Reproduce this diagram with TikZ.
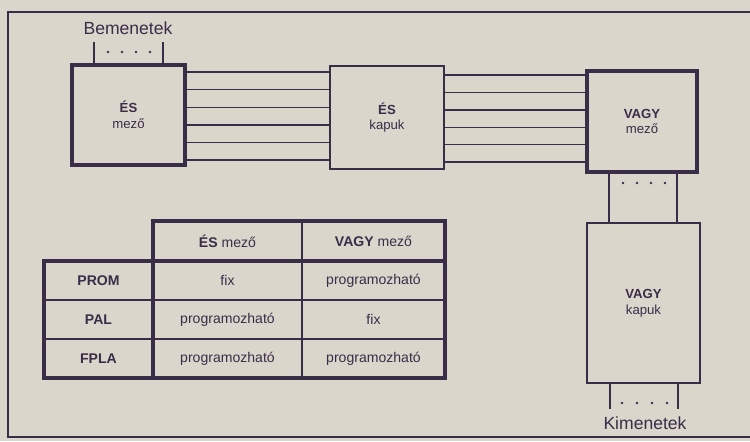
\documentclass[tikz,border=0pt]{standalone}
\usepackage{fontspec}
\setmainfont{Liberation Sans}
\usetikzlibrary{positioning}
\definecolor{paper}{HTML}{DBD6CC}
\definecolor{ink}{HTML}{3A2D48}
\tikzset{
    block/.style={draw=ink, text=ink, line width=0.8pt, inner sep=0pt, align=center, font=\fontsize{7.5}{9}\selectfont},
    heavyblock/.style={block, line width=2.4pt},
    wire/.style={draw=ink, line width=0.8pt},
    cell/.style={text=ink, font=\fontsize{8}{9}\selectfont},
    tag/.style={text=ink, font=\fontsize{10}{11}\selectfont}
}

\begin{document}
\begin{tikzpicture}[x=0.02cm, y=-0.02cm]
    \useasboundingbox (0,0) rectangle (750,441);
    \fill[paper] (0,0) rectangle (750,441);
    \draw[ink, line width=0.9pt] (750,12) -- (8,12) -- (8,437) -- (750,437);

    \node[heavyblock, minimum width=2.26cm, minimum height=2cm] (esmezo) at (128.5,115) {\textbf{ÉS}\\mező};
    \node[block, minimum width=2.28cm, minimum height=2.06cm] (eskapuk) at (387,117.5) {\textbf{ÉS}\\kapuk};
    \node[heavyblock, minimum width=2.2cm, minimum height=2.02cm] (vagymezo) at (642,121.5) {\textbf{VAGY}\\mező};
    \node[block, minimum width=2.26cm, minimum height=3.2cm] (vagykapuk) at (643.5,303) {\textbf{VAGY}\\kapuk};

    \node[tag] (bemenetek) at (128,28) {Bemenetek};
    \node[tag] (kimenetek) at (645,423) {Kimenetek};
    \coordinate (be1) at (94,42);
    \coordinate (be2) at (163,42);
    \coordinate (ki1) at (610,409);
    \coordinate (ki2) at (678,409);

    \draw[wire] (be1) -- (esmezo.north -| be1);
    \draw[wire] (be2) -- (esmezo.north -| be2);
    \foreach \x in {108,122,136,150}
        \fill[ink] (\x,52) circle (0.8pt);

    \foreach \y in {72,89.6,107.2,124.8,142.4,160}
        \draw[wire] (esmezo.east |- 0,\y) -- (eskapuk.west |- 0,\y);
    \foreach \y in {75,92.4,109.8,127.2,144.6,162}
        \draw[wire] (eskapuk.east |- 0,\y) -- (vagymezo.west |- 0,\y);

    \foreach \x in {609,677}
        \draw[wire] (vagymezo.south -| \x,0) -- (vagykapuk.north -| \x,0);
    \foreach \x in {623,637,651,665}
        \fill[ink] (\x,183) circle (0.8pt);

    \draw[wire] (vagykapuk.south -| ki1) -- (ki1);
    \draw[wire] (vagykapuk.south -| ki2) -- (ki2);
    \foreach \x in {622,637,652,667}
        \fill[ink] (\x,403) circle (0.8pt);

    \node[cell] (hes) at (227.5,241) {\textbf{ÉS} mező};
    \node[cell] (hvagy) at (373.5,241) {\textbf{VAGY} mező};
    \node[cell] (prom) at (98.5,280.5) {\textbf{PROM}};
    \node[cell] (pal) at (98.5,319.5) {\textbf{PAL}};
    \node[cell] (fpla) at (98.5,358.5) {\textbf{FPLA}};
    \node[cell] (promes) at (227.5,280.5) {fix};
    \node[cell] (promvagy) at (373.5,280.5) {programozható};
    \node[cell] (pales) at (227.5,319.5) {programozható};
    \node[cell] (palvagy) at (373.5,319.5) {fix};
    \node[cell] (fplaes) at (227.5,358.5) {programozható};
    \node[cell] (fplavagy) at (373.5,358.5) {programozható};

    \draw[ink, line width=0.8pt] (302,221) -- (302,378);
    \draw[ink, line width=0.8pt] (44,300) -- (445,300) (44,339) -- (445,339);
    \draw[ink, line width=2.2pt] (153,221) rectangle (445,378);
    \draw[ink, line width=2.2pt] (44,261) rectangle (153,378);
    \draw[ink, line width=2.2pt] (153,261) -- (445,261);
\end{tikzpicture}
\end{document}
